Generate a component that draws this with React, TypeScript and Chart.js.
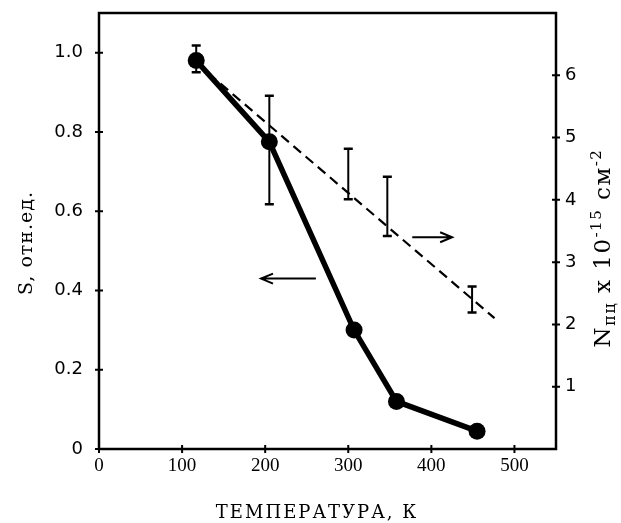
import { useEffect, useRef } from "react";
import { Chart, registerables } from "chart.js";

Chart.register(...registerables);

// Solid curve: S (relative units) vs temperature
const temperatures = [117, 205, 307, 358, 455];
const sValues = [0.98, 0.775, 0.3, 0.12, 0.045];

// Error bars for N (right axis)
const errTemps = [117, 205, 300, 347, 449];
const errLow = [6.05, 3.93, 4.01, 3.42, 2.19];
const errHigh = [6.48, 5.67, 4.82, 4.37, 2.61];

// Dashed fit line for N (right axis)
const fitTemps = [117, 476];
const fitValues = [6.2, 2.1];

// Tick labels
const xTicks = [0, 100, 200, 300, 400, 500];
const sTicks = [0, 0.2, 0.4, 0.6, 0.8, 1.0];
const nTicks = [1, 2, 3, 4, 5, 6];

// Arrows (data units): [xFrom, xTo, y]
const arrowToS = [261, 195, 0.43];
const arrowToN = [377, 425, 3.4];

const X_TITLE = "ТЕМПЕРАТУРА, К";
const Y_TITLE = "S, отн.ед.";

function drawArrow(ctx: CanvasRenderingContext2D, x1: number, x2: number, y: number) {
  const dir = Math.sign(x2 - x1);
  ctx.beginPath();
  ctx.moveTo(x1, y);
  ctx.lineTo(x2, y);
  ctx.moveTo(x2 - dir * 12, y - 5);
  ctx.lineTo(x2, y);
  ctx.lineTo(x2 - dir * 12, y + 5);
  ctx.stroke();
}

const decorPlugin = {
  id: "decor",
  afterDatasetsDraw(chart: any) {
    const { ctx, chartArea: a, scales } = chart;
    const x = scales.x;
    const y = scales.y;
    const y1 = scales.y1;
    ctx.save();
    ctx.strokeStyle = "#000";
    ctx.fillStyle = "#000";
    ctx.lineCap = "butt";

    // frame
    ctx.lineWidth = 2.5;
    ctx.strokeRect(a.left, a.top, a.right - a.left, a.bottom - a.top);

    // tick crosses
    ctx.lineWidth = 2;
    ctx.beginPath();
    xTicks.forEach((v) => {
      const px = x.getPixelForValue(v);
      ctx.moveTo(px, a.bottom - 4);
      ctx.lineTo(px, a.bottom + 4);
    });
    sTicks.forEach((v) => {
      const py = y.getPixelForValue(v);
      ctx.moveTo(a.left - 4, py);
      ctx.lineTo(a.left + 4, py);
    });
    nTicks.forEach((v) => {
      const py = y1.getPixelForValue(v);
      ctx.moveTo(a.right - 4, py);
      ctx.lineTo(a.right + 4, py);
    });
    ctx.stroke();

    // error bars
    errTemps.forEach((t, i) => {
      const px = x.getPixelForValue(t);
      const pl = y1.getPixelForValue(errLow[i]);
      const ph = y1.getPixelForValue(errHigh[i]);
      ctx.lineWidth = 2;
      ctx.beginPath();
      ctx.moveTo(px, pl);
      ctx.lineTo(px, ph);
      ctx.stroke();
      ctx.lineWidth = 2.5;
      ctx.beginPath();
      ctx.moveTo(px - 4.5, pl);
      ctx.lineTo(px + 4.5, pl);
      ctx.moveTo(px - 4.5, ph);
      ctx.lineTo(px + 4.5, ph);
      ctx.stroke();
    });

    // arrows
    ctx.lineWidth = 2;
    drawArrow(ctx, x.getPixelForValue(arrowToS[0]), x.getPixelForValue(arrowToS[1]), y.getPixelForValue(arrowToS[2]));
    drawArrow(ctx, x.getPixelForValue(arrowToN[0]), x.getPixelForValue(arrowToN[1]), y1.getPixelForValue(arrowToN[2]));

    // x title
    ctx.font = '18px "DejaVu Serif"';
    ctx.textAlign = "center";
    ctx.textBaseline = "middle";
    (ctx as any).letterSpacing = "2px";
    ctx.fillText(X_TITLE, 317, 513);

    // left title
    ctx.save();
    ctx.translate(27, 243);
    ctx.rotate(-Math.PI / 2);
    (ctx as any).letterSpacing = "1px";
    ctx.font = '19px "DejaVu Serif"';
    ctx.fillText(Y_TITLE, 0, 0);
    ctx.restore();

    // right title with sub/superscripts
    const parts = [
      { t: "N", s: 23, dy: 0 },
      { t: "пц", s: 16, dy: 5 },
      { t: " x 10", s: 23, dy: 0 },
      { t: "-15", s: 15, dy: -9 },
      { t: " см", s: 23, dy: 0 },
      { t: "-2", s: 15, dy: -9 },
    ];
    ctx.save();
    ctx.translate(602, 248);
    ctx.rotate(-Math.PI / 2);
    ctx.textAlign = "left";
    ctx.textBaseline = "alphabetic";
    (ctx as any).letterSpacing = "1.5px";
    let total = 0;
    parts.forEach((p) => {
      ctx.font = `${p.s}px "DejaVu Serif"`;
      total += ctx.measureText(p.t).width;
    });
    let cx = -total / 2;
    parts.forEach((p) => {
      ctx.font = `${p.s}px "DejaVu Serif"`;
      ctx.fillText(p.t, cx, 8 + p.dy);
      cx += ctx.measureText(p.t).width;
    });
    ctx.restore();

    ctx.restore();
  },
};

export default function App() {
  const ref = useRef<HTMLCanvasElement | null>(null);
  useEffect(() => {
    document.body.style.margin = "0";
    const canvas = ref.current;
    if (!canvas) return;
    const chart = new Chart(canvas, {
      type: "scatter",
      data: {
        datasets: [
          {
            label: "S",
            data: temperatures.map((t, i) => ({ x: t, y: sValues[i] })),
            yAxisID: "y",
            showLine: true,
            borderColor: "#000",
            backgroundColor: "#000",
            borderWidth: 5.5,
            pointRadius: 8.5,
            pointBorderWidth: 0,
            pointBackgroundColor: "#000",
          },
          {
            label: "N",
            data: fitTemps.map((t, i) => ({ x: t, y: fitValues[i] })),
            yAxisID: "y1",
            showLine: true,
            borderColor: "#000",
            borderWidth: 2.2,
            borderDash: [10, 6],
            pointRadius: 0,
          },
        ],
      },
      options: {
        animation: false,
        responsive: false,
        devicePixelRatio: 1,
        layout: { padding: { top: 13, left: 0, right: 0, bottom: 0 } },
        plugins: { legend: { display: false }, tooltip: { enabled: false } },
        scales: {
          x: {
            type: "linear",
            min: 0,
            max: 550,
            grid: { display: false, drawTicks: false },
            border: { display: false },
            afterBuildTicks: (s: any) => {
              s.ticks = xTicks.map((v) => ({ value: v }));
            },
            afterFit: (s: any) => {
              s.height = 74;
              s.paddingLeft = 0;
              s.paddingRight = 0;
            },
            ticks: {
              padding: 6,
              color: "#000",
              font: { family: '"Liberation Serif"', size: 19 },
              maxRotation: 0,
            },
          },
          y: {
            type: "linear",
            position: "left",
            min: 0,
            max: 1.1,
            grid: { display: false, drawTicks: false },
            border: { display: false },
            afterBuildTicks: (s: any) => {
              s.ticks = sTicks.map((v) => ({ value: v }));
            },
            afterFit: (s: any) => {
              s.width = 99;
              s.paddingTop = 0;
              s.paddingBottom = 0;
            },
            ticks: {
              padding: 16,
              color: "#000",
              font: { family: '"DejaVu Sans"', size: 18 },
              callback: (v: any) => (Number(v) === 0 ? "0" : Number(v).toFixed(1)),
            },
          },
          y1: {
            type: "linear",
            position: "right",
            min: 0,
            max: 7,
            grid: { display: false, drawTicks: false },
            border: { display: false },
            afterBuildTicks: (s: any) => {
              s.ticks = nTicks.map((v) => ({ value: v }));
            },
            afterFit: (s: any) => {
              s.width = 65;
              s.paddingTop = 0;
              s.paddingBottom = 0;
            },
            ticks: {
              padding: 9,
              color: "#000",
              font: { family: '"DejaVu Sans"', size: 18 },
              callback: (v: any) => String(v),
            },
          },
        },
      },
      plugins: [decorPlugin],
    });
    return () => chart.destroy();
  }, []);
  return (
    <div style={{ width: 621, height: 523, background: "#fff" }}>
      <canvas ref={ref} width={621} height={523} style={{ display: "block" }} />
    </div>
  );
}
